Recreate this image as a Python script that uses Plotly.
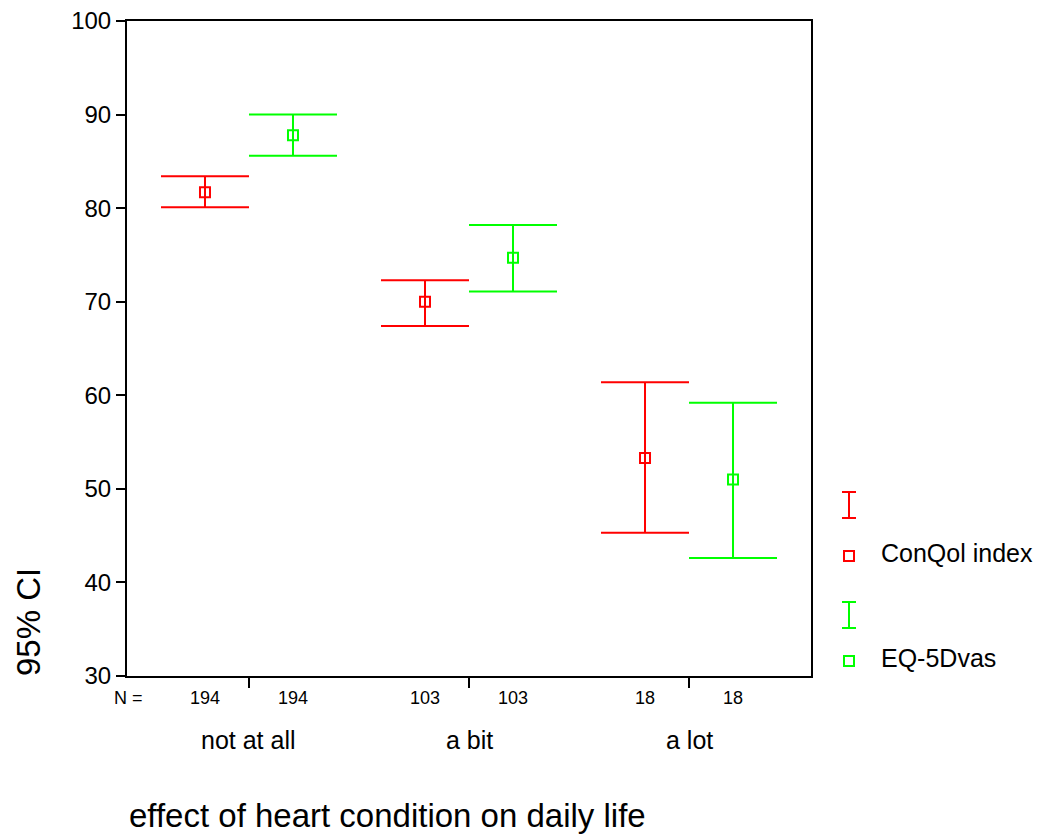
import plotly.graph_objects as go

categories = ["not at all", "a bit", "a lot"]
n_counts = [194, 103, 18]
conqol_mean = [81.7, 70.0, 53.3]
conqol_lo = [80.1, 67.4, 45.3]
conqol_hi = [83.4, 72.3, 61.4]
eq_mean = [87.8, 74.7, 51.0]
eq_lo = [85.6, 71.1, 42.6]
eq_hi = [90.0, 78.2, 59.2]
series_names = ["ConQol index", "EQ-5Dvas"]
y_ticks = [30, 40, 50, 60, 70, 80, 90, 100]

RED = "#FF0000"
GREEN = "#00FF00"
FONT = "Liberation Sans, Arial, sans-serif"

pos = [i + 1 for i in range(len(categories))]
off = 0.2
x_red = [p - off for p in pos]
x_green = [p + off for p in pos]

fig = go.Figure()

def add_series(xs, mean, lo, hi, color, name):
    fig.add_trace(go.Scatter(
        x=xs, y=mean, mode="markers", name=name, showlegend=False,
        marker=dict(symbol="square-open", size=10, color=color, line=dict(width=2, color=color)),
        error_y=dict(type="data", symmetric=False,
                     array=[h - m for h, m in zip(hi, mean)],
                     arrayminus=[m - l for m, l in zip(mean, lo)],
                     color=color, thickness=2, width=44),
    ))

add_series(x_red, conqol_mean, conqol_lo, conqol_hi, RED, series_names[0])
add_series(x_green, eq_mean, eq_lo, eq_hi, GREEN, series_names[1])

L, R, T, B = 127, 230, 21, 159
W, H = 1041, 835
pw, ph = W - L - R, H - T - B

def px(x):
    return (x - L) / pw

def py(y):
    return (H - B - y) / ph

annotations = []
# N labels
annotations.append(dict(x=0, y=0, xref="paper", yref="paper", text="N =", showarrow=False,
                        xanchor="center", yanchor="middle", yshift=-22, xshift=1,
                        font=dict(size=18, family=FONT, color="black")))
for xs in (x_red, x_green):
    for xv, n in zip(xs, n_counts):
        annotations.append(dict(x=xv, y=0, xref="x", yref="paper", text=str(n), showarrow=False,
                                xanchor="center", yanchor="middle", yshift=-22,
                                font=dict(size=18, family=FONT, color="black")))
for p, c in zip(pos, categories):
    annotations.append(dict(x=p, y=0, xref="x", yref="paper", text=c, showarrow=False,
                            xanchor="center", yanchor="middle", yshift=-64,
                            font=dict(size=25, family=FONT, color="black")))
annotations.append(dict(x=0, y=0, xref="paper", yref="paper",
                        text="effect of heart condition on daily life", showarrow=False,
                        xanchor="left", yanchor="middle", xshift=0, yshift=-139,
                        font=dict(size=33, family=FONT, color="black")))
annotations.append(dict(x=0, y=py(622), xref="paper", yref="paper", text="95% CI",
                        showarrow=False, textangle=-90, xanchor="center", yanchor="middle",
                        xshift=-99, font=dict(size=33, family=FONT, color="black")))

# legend
shapes = []
legend_rows = [(RED, 492, 518, 556, series_names[0]), (GREEN, 602, 628, 661, series_names[1])]
for color, ytop, ybot, ymark, label in legend_rows:
    cx = 849
    shapes.append(dict(type="line", xref="paper", yref="paper", x0=px(cx), x1=px(cx),
                       y0=py(ytop), y1=py(ybot), line=dict(color=color, width=2)))
    for yy in (ytop, ybot):
        shapes.append(dict(type="line", xref="paper", yref="paper", x0=px(cx - 7), x1=px(cx + 7),
                           y0=py(yy), y1=py(yy), line=dict(color=color, width=2)))
    shapes.append(dict(type="rect", xref="paper", yref="paper", x0=px(cx - 5), x1=px(cx + 5),
                       y0=py(ymark + 5), y1=py(ymark - 5), line=dict(color=color, width=2)))
    annotations.append(dict(x=px(879), y=py(ymark - 3), xref="paper", yref="paper", text=label,
                            showarrow=False, xanchor="left", yanchor="middle",
                            font=dict(size=25, family=FONT, color="black")))

fig.update_layout(
    width=W, height=H,
    margin=dict(l=L, r=R, t=T, b=B, pad=0, autoexpand=False),
    paper_bgcolor="white", plot_bgcolor="white",
    font=dict(family=FONT, color="black"),
    showlegend=False,
    annotations=annotations,
    shapes=shapes,
    xaxis=dict(range=[0.4455, 3.5545], tickvals=pos, ticktext=["", "", ""], ticks="outside",
               ticklen=10, tickwidth=2, tickcolor="black", showline=True, linecolor="black",
               linewidth=2, mirror=True, showgrid=False, zeroline=False, fixedrange=True,
               automargin=False),
    yaxis=dict(range=[30, 100], tickvals=y_ticks, ticks="outside", ticklen=9, tickwidth=2,
               tickcolor="black", showline=True, linecolor="black", linewidth=2, mirror=True,
               showgrid=False, zeroline=False, tickfont=dict(size=24, family=FONT, color="black"),
               fixedrange=True, automargin=False),
)

fig.write_html("out.html")
